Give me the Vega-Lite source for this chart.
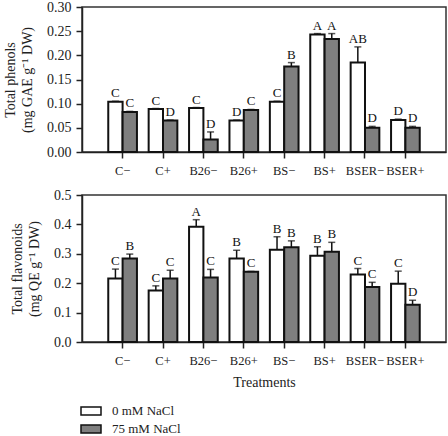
{
  "$schema": "https://vega.github.io/schema/vega-lite/v6.json",
  "autosize": {"type": "none"},
  "padding": {"left": 82, "top": 7, "right": 366, "bottom": 429},
  "spacing": 9,
  "config": {
    "font": "Liberation Serif",
    "view": {"stroke": "#333333", "strokeWidth": 1.5},
    "axis": {"labelFont": "Liberation Serif", "titleFont": "Liberation Serif", "labelFontSize": 14, "titleFontSize": 14, "titleFontWeight": "normal", "labelColor": "#222", "titleColor": "#222", "domainColor": "#222", "tickColor": "#222", "domainWidth": 1.5, "tickWidth": 1.5, "grid": false, "tickSize": 6, "labelOverlap": false},
    "axisX": {"labelFontSize": 12.5, "labelPadding": 6},
    "axisY": {"labelPadding": 5, "titlePadding": 12, "titleLineHeight": 17},
    "legend": {"labelFont": "Liberation Serif", "labelFontSize": 13, "labelColor": "#222"}
  },
  "datasets": {
    "phenols": [
      {"Treatment": "C−", "NaCl": "0 mM NaCl", "value": 0.104, "hi": 0.105, "letter": "C"},
      {"Treatment": "C−", "NaCl": "75 mM NaCl", "value": 0.083, "hi": 0.084, "letter": "C"},
      {"Treatment": "C+", "NaCl": "0 mM NaCl", "value": 0.089, "hi": 0.090, "letter": "C"},
      {"Treatment": "C+", "NaCl": "75 mM NaCl", "value": 0.065, "hi": 0.066, "letter": "D"},
      {"Treatment": "B26−", "NaCl": "0 mM NaCl", "value": 0.091, "hi": 0.092, "letter": "C"},
      {"Treatment": "B26−", "NaCl": "75 mM NaCl", "value": 0.026, "hi": 0.0415, "letter": "D"},
      {"Treatment": "B26+", "NaCl": "0 mM NaCl", "value": 0.065, "hi": 0.066, "letter": "D"},
      {"Treatment": "B26+", "NaCl": "75 mM NaCl", "value": 0.087, "hi": 0.088, "letter": "C"},
      {"Treatment": "BS−", "NaCl": "0 mM NaCl", "value": 0.104, "hi": 0.105, "letter": "C"},
      {"Treatment": "BS−", "NaCl": "75 mM NaCl", "value": 0.177, "hi": 0.185, "letter": "B"},
      {"Treatment": "BS+", "NaCl": "0 mM NaCl", "value": 0.243, "hi": 0.245, "letter": "A"},
      {"Treatment": "BS+", "NaCl": "75 mM NaCl", "value": 0.234, "hi": 0.245, "letter": "A"},
      {"Treatment": "BSER−", "NaCl": "0 mM NaCl", "value": 0.185, "hi": 0.2175, "letter": "AB"},
      {"Treatment": "BSER−", "NaCl": "75 mM NaCl", "value": 0.050, "hi": 0.053, "letter": "D"},
      {"Treatment": "BSER+", "NaCl": "0 mM NaCl", "value": 0.066, "hi": 0.068, "letter": "D"},
      {"Treatment": "BSER+", "NaCl": "75 mM NaCl", "value": 0.050, "hi": 0.053, "letter": "D"}
    ],
    "flavonoids": [
      {"Treatment": "C−", "NaCl": "0 mM NaCl", "value": 0.216, "hi": 0.248, "letter": "C"},
      {"Treatment": "C−", "NaCl": "75 mM NaCl", "value": 0.284, "hi": 0.299, "letter": "B"},
      {"Treatment": "C+", "NaCl": "0 mM NaCl", "value": 0.175, "hi": 0.191, "letter": "C"},
      {"Treatment": "C+", "NaCl": "75 mM NaCl", "value": 0.216, "hi": 0.244, "letter": "C"},
      {"Treatment": "B26−", "NaCl": "0 mM NaCl", "value": 0.392, "hi": 0.416, "letter": "A"},
      {"Treatment": "B26−", "NaCl": "75 mM NaCl", "value": 0.219, "hi": 0.247, "letter": "C"},
      {"Treatment": "B26+", "NaCl": "0 mM NaCl", "value": 0.284, "hi": 0.312, "letter": "B"},
      {"Treatment": "B26+", "NaCl": "75 mM NaCl", "value": 0.239, "hi": 0.240, "letter": "C"},
      {"Treatment": "BS−", "NaCl": "0 mM NaCl", "value": 0.314, "hi": 0.358, "letter": "B"},
      {"Treatment": "BS−", "NaCl": "75 mM NaCl", "value": 0.322, "hi": 0.344, "letter": "B"},
      {"Treatment": "BS+", "NaCl": "0 mM NaCl", "value": 0.293, "hi": 0.324, "letter": "B"},
      {"Treatment": "BS+", "NaCl": "75 mM NaCl", "value": 0.307, "hi": 0.339, "letter": "B"},
      {"Treatment": "BSER−", "NaCl": "0 mM NaCl", "value": 0.2295, "hi": 0.25, "letter": "C"},
      {"Treatment": "BSER−", "NaCl": "75 mM NaCl", "value": 0.1875, "hi": 0.203, "letter": "C"},
      {"Treatment": "BSER+", "NaCl": "0 mM NaCl", "value": 0.198, "hi": 0.241, "letter": "C"},
      {"Treatment": "BSER+", "NaCl": "75 mM NaCl", "value": 0.127, "hi": 0.142, "letter": "D"}
    ]
  },
  "vconcat": [
    {
      "width": 364, "height": 145,
      "data": {"name": "phenols"},
      "encoding": {
        "x": {"field": "Treatment", "type": "nominal", "sort": null,
              "scale": {"paddingInner": 0.29, "paddingOuter": 0.65},
              "axis": {"title": null, "labelAngle": 0}},
        "xOffset": {"field": "NaCl", "type": "nominal", "sort": null, "scale": {"paddingInner": 0, "paddingOuter": 0}}
      },
      "layer": [
        {"mark": {"type": "bar", "stroke": "#111", "strokeWidth": 2},
         "encoding": {
           "y": {"field": "value", "type": "quantitative", "scale": {"domain": [0, 0.3], "nice": false},
                 "axis": {"values": [0, 0.05, 0.1, 0.15, 0.2, 0.25, 0.3], "format": ".2f", "title": ["Total phenols", "(mg GAE g⁻¹ DW)"]}},
           "fill": {"field": "NaCl", "type": "nominal", "sort": null,
                    "scale": {"domain": ["0 mM NaCl", "75 mM NaCl"], "range": ["#ffffff", "#7f7f7f"]},
                    "legend": {"title": null, "orient": "none", "legendX": -2, "legendY": 393, "symbolType": "M-1,-0.4H1V0.4H-1Z", "symbolSize": 400, "symbolStrokeColor": "#111", "symbolStrokeWidth": 1.5, "rowPadding": -3, "labelOffset": 10}}
         }},
        {"mark": {"type": "rule", "color": "#111", "strokeWidth": 1.5},
         "encoding": {"y": {"field": "value", "type": "quantitative", "axis": {"values": [0, 0.05, 0.1, 0.15, 0.2, 0.25, 0.3], "format": ".2f", "title": ["Total phenols", "(mg GAE g⁻¹ DW)"]}}, "y2": {"field": "hi"}}},
        {"mark": {"type": "tick", "color": "#111", "thickness": 1.5, "size": 7},
         "encoding": {"y": {"field": "hi", "type": "quantitative", "axis": {"values": [0, 0.05, 0.1, 0.15, 0.2, 0.25, 0.3], "format": ".2f", "title": ["Total phenols", "(mg GAE g⁻¹ DW)"]}}}},
        {"mark": {"type": "text", "dy": -8, "fontSize": 13, "font": "Liberation Serif", "color": "#111"},
         "encoding": {"y": {"field": "hi", "type": "quantitative", "axis": {"values": [0, 0.05, 0.1, 0.15, 0.2, 0.25, 0.3], "format": ".2f", "title": ["Total phenols", "(mg GAE g⁻¹ DW)"]}}, "text": {"field": "letter"}}}
      ]
    },
    {
      "width": 364, "height": 147,
      "data": {"name": "flavonoids"},
      "encoding": {
        "x": {"field": "Treatment", "type": "nominal", "sort": null,
              "scale": {"paddingInner": 0.29, "paddingOuter": 0.65},
              "axis": {"title": "Treatments", "labelAngle": 0, "titlePadding": 9, "titleFontSize": 14}},
        "xOffset": {"field": "NaCl", "type": "nominal", "sort": null, "scale": {"paddingInner": 0, "paddingOuter": 0}}
      },
      "layer": [
        {"mark": {"type": "bar", "stroke": "#111", "strokeWidth": 2},
         "encoding": {
           "y": {"field": "value", "type": "quantitative", "scale": {"domain": [0, 0.5], "nice": false},
                 "axis": {"values": [0, 0.1, 0.2, 0.3, 0.4, 0.5], "format": ".1f", "title": ["Total flavonoids", "(mg QE g⁻¹ DW)"]}},
           "fill": {"field": "NaCl", "type": "nominal", "sort": null,
                    "scale": {"domain": ["0 mM NaCl", "75 mM NaCl"], "range": ["#ffffff", "#7f7f7f"]}}
         }},
        {"mark": {"type": "rule", "color": "#111", "strokeWidth": 1.5},
         "encoding": {"y": {"field": "value", "type": "quantitative", "axis": {"values": [0, 0.1, 0.2, 0.3, 0.4, 0.5], "format": ".1f", "title": ["Total flavonoids", "(mg QE g⁻¹ DW)"]}}, "y2": {"field": "hi"}}},
        {"mark": {"type": "tick", "color": "#111", "thickness": 1.5, "size": 7},
         "encoding": {"y": {"field": "hi", "type": "quantitative", "axis": {"values": [0, 0.1, 0.2, 0.3, 0.4, 0.5], "format": ".1f", "title": ["Total flavonoids", "(mg QE g⁻¹ DW)"]}}}},
        {"mark": {"type": "text", "dy": -8, "fontSize": 13, "font": "Liberation Serif", "color": "#111"},
         "encoding": {"y": {"field": "hi", "type": "quantitative", "axis": {"values": [0, 0.1, 0.2, 0.3, 0.4, 0.5], "format": ".1f", "title": ["Total flavonoids", "(mg QE g⁻¹ DW)"]}}, "text": {"field": "letter"}}}
      ]
    }
  ]
}
